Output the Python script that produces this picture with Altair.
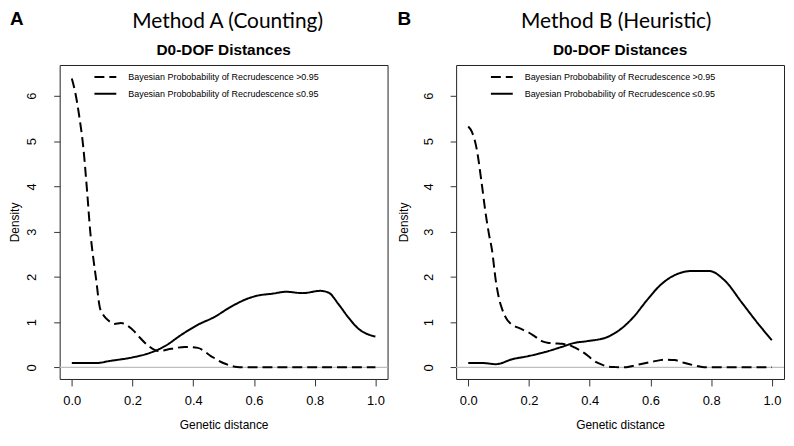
import altair as alt
import pandas as pd

LABEL_HI = "Bayesian Probobability of Recrudescence >0.95"
LABEL_LO = "Bayesian Probobability of Recrudescence \u22640.95"

X_TICKS = [0.0, 0.2, 0.4, 0.6, 0.8, 1.0]
Y_TICKS = [0, 1, 2, 3, 4, 5, 6]

# Panel A - Method A (Counting)
a_hi_x = [0, 0.012, 0.024, 0.038, 0.05, 0.061, 0.07, 0.08, 0.092, 0.102, 0.113, 0.127, 0.14,
          0.162, 0.188, 0.205, 0.221, 0.253, 0.285, 0.328, 0.372, 0.415, 0.458, 0.501, 0.544,
          0.58, 0.7, 0.85, 1.0]
a_hi_y = [6.38, 6.05, 5.57, 4.85, 3.92, 2.98, 2.45, 1.95, 1.33, 1.18, 1.08, 1.0, 0.96,
          0.98, 0.9, 0.8, 0.68, 0.47, 0.36, 0.41, 0.45, 0.43, 0.25, 0.09, 0.01,
          0, 0, 0, 0]
a_lo_x = [0, 0.081, 0.124, 0.2, 0.253, 0.307, 0.361, 0.415, 0.469, 0.522, 0.576, 0.609,
          0.663, 0.706, 0.76, 0.819, 0.846, 0.878, 0.91, 0.943, 1.0]
a_lo_y = [0.095, 0.095, 0.14, 0.22, 0.31, 0.47, 0.72, 0.94, 1.11, 1.33, 1.51, 1.58,
          1.63, 1.67, 1.64, 1.69, 1.65, 1.4, 1.11, 0.86, 0.68]

# Panel B - Method B (Heuristic)
b_hi_x = [0, 0.012, 0.027, 0.043, 0.057, 0.068, 0.078, 0.091, 0.102, 0.113, 0.128, 0.145,
          0.17, 0.199, 0.22, 0.242, 0.265, 0.285, 0.31, 0.329, 0.35, 0.372, 0.395, 0.415,
          0.44, 0.458, 0.485, 0.512, 0.54, 0.566, 0.61, 0.652, 0.68, 0.706, 0.74, 0.77,
          0.8, 0.9, 1.0]
b_hi_y = [5.32, 5.2, 4.85, 4.13, 3.41, 2.95, 2.6, 1.9, 1.5, 1.26, 1.05, 0.94,
          0.86, 0.77, 0.68, 0.58, 0.54, 0.53, 0.52, 0.5, 0.44, 0.36, 0.25, 0.14,
          0.06, 0.02, 0.005, 0, 0.03, 0.07, 0.13, 0.17, 0.16, 0.11, 0.05, 0.01,
          0, 0, 0]
b_lo_x = [0, 0.048, 0.091, 0.145, 0.199, 0.264, 0.307, 0.35, 0.393, 0.458, 0.501, 0.544,
          0.587, 0.63, 0.684, 0.738, 0.792, 0.846, 0.9, 0.954, 1.0]
b_lo_y = [0.095, 0.095, 0.07, 0.18, 0.25, 0.36, 0.45, 0.54, 0.58, 0.67, 0.84, 1.11,
          1.47, 1.8, 2.05, 2.13, 2.13, 1.91, 1.44, 0.97, 0.6]

W, H = 330, 316
FONT = "Liberation Sans"


def make_df(hx, hy, lx, ly):
    return pd.DataFrame({
        "x": hx + lx,
        "y": hy + ly,
        "group": [LABEL_HI] * len(hx) + [LABEL_LO] * len(lx),
    })


def panel(letter, method, df, letter_x, ytitle_pad, title_dx):
    xs = alt.Scale(domain=[-0.04, 1.04], nice=False, zero=False)
    ys = alt.Scale(domain=[-0.257, 6.68], nice=False, zero=False)

    zero = alt.Chart(pd.DataFrame({"y": [0]})).mark_rule(
        color="#bebebe", strokeWidth=1.3
    ).encode(y=alt.Y("y:Q", scale=ys))

    lines = alt.Chart(df).mark_line(
        color="black", strokeWidth=2, interpolate="monotone"
    ).encode(
        x=alt.X("x:Q", scale=xs, axis=alt.Axis(
            values=X_TICKS, format=".1f", title="Genetic distance",
            tickSize=7, labelPadding=9, titlePadding=12)),
        y=alt.Y("y:Q", scale=ys, axis=alt.Axis(
            values=Y_TICKS, format="d", title="Density",
            tickSize=6, labelAngle=270, labelAlign="center", labelBaseline="bottom",
            labelPadding=15, titlePadding=ytitle_pad)),
        strokeDash=alt.StrokeDash("group:N", scale=alt.Scale(
            domain=[LABEL_HI, LABEL_LO], range=[[10, 5], [1, 0]]),
            legend=alt.Legend(title=None, orient="none", legendX=34, legendY=0)),
    )

    letter_t = alt.Chart(pd.DataFrame({"t": [letter]})).mark_text(
        font=FONT, fontWeight="bold", fontSize=19, align="left",
        baseline="alphabetic", color="black"
    ).encode(text="t:N", x=alt.value(letter_x), y=alt.value(-40))

    method_t = alt.Chart(pd.DataFrame({"t": [method]})).mark_text(
        font="Lato", fontSize=21, align="center", baseline="alphabetic", color="black"
    ).encode(text="t:N", x=alt.value(W / 2 + title_dx), y=alt.value(-37))

    sub_t = alt.Chart(pd.DataFrame({"t": ["D0-DOF Distances"]})).mark_text(
        font=FONT, fontWeight="bold", fontSize=15.5, align="center",
        baseline="alphabetic", color="black"
    ).encode(text="t:N", x=alt.value(W / 2), y=alt.value(-10.5))

    return alt.layer(zero, lines, letter_t, method_t, sub_t).properties(width=W, height=H)


pa = panel("A", "Method A (Counting)", make_df(a_hi_x, a_hi_y, a_lo_x, a_lo_y), -50, 4, 4)
pb = panel("B", "Method B (Heuristic)", make_df(b_hi_x, b_hi_y, b_lo_x, b_lo_y), -59, 12, -4)

chart = alt.hconcat(pa, pb, spacing=7).resolve_scale(
    strokeDash="independent"
).resolve_legend(strokeDash="independent").properties(padding=0).configure_view(
    stroke="#222", strokeWidth=1
).configure_axis(
    grid=False, domain=False, tickColor="#333", tickWidth=1,
    labelFont=FONT, labelFontSize=13, labelColor="black",
    titleFont=FONT, titleFontSize=12, titleFontWeight="normal", titleColor="black"
).configure_legend(
    labelFont=FONT, labelFontSize=9, labelColor="black", symbolType="stroke",
    symbolStrokeWidth=2, symbolSize=484, symbolStrokeColor="black",
    labelOffset=11, rowPadding=-1.5, padding=0, labelLimit=400
)

chart.save("out.html", embed_options={"renderer": "svg", "actions": False})
